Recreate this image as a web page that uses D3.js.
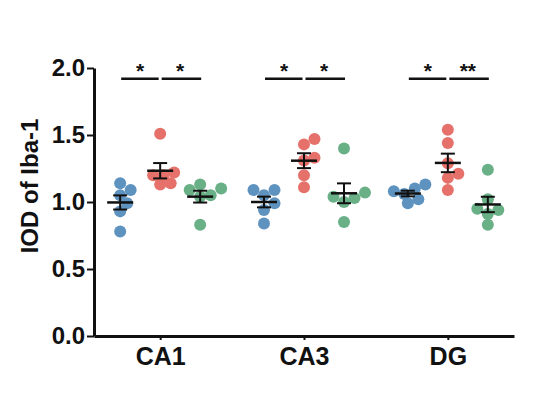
<!DOCTYPE html>
<head>
  <meta charset="utf-8">
  <title>IOD of Iba-1</title>
</head>
<style>
  body { margin: 0; background: #fff; }
  svg { display: block; font-family: "Liberation Sans", Arial, sans-serif; }
  .axis text { font-weight: bold; font-size: 24px; fill: #111; }
  .axis path, .axis line { stroke: #111; stroke-width: 3; }
  .sig { stroke: #111; stroke-width: 2.5; }
  .star { font-weight: bold; font-size: 21px; text-anchor: middle; fill: #111; }
  .err { stroke: #111; stroke-width: 2; fill: none; }
</style>
<svg width="535" height="394"></svg>
<script src="https://d3js.org/d3.v7.min.js"></script>
<script>
  // data
  var regions = ["CA1", "CA3", "DG"];
  var groups = ["g1", "g2", "g3"];
  var colors = ["#5f93bf", "#e6716b", "#69b087"];

  var g1 = {
    CA1: [1.09, 1.14, 1.05, 0.99, 0.93, 0.78],
    CA3: [1.09, 1.09, 1.05, 0.99, 0.94, 0.84],
    DG:  [1.13, 1.10, 1.08, 1.06, 1.02, 0.99]
  };
  var g2 = {
    CA1: [1.51, 1.14, 1.13, 1.20, 1.20, 1.22],
    CA3: [1.43, 1.47, 1.31, 1.33, 1.20, 1.11],
    DG:  [1.54, 1.44, 1.29, 1.21, 1.18, 1.09]
  };
  var g3 = {
    CA1: [0.83, 1.09, 1.13, 1.05, 1.04, 1.10],
    CA3: [1.40, 0.85, 1.07, 1.04, 1.00, 1.03],
    DG:  [1.24, 1.02, 0.95, 0.94, 0.91, 0.83]
  };
  var seriesData = [g1, g2, g3];

  var sigLeft = ["*", "*", "*"];
  var sigRight = ["*", "*", "**"];
  var sigLevel = 1.92;

  var yTicks = [0, 0.5, 1.0, 1.5, 2.0];

  var svg = d3.select("svg");
  var margin = { left: 94, right: 21, top: 68, bottom: 58 };
  var width = +svg.attr("width"), height = +svg.attr("height");

  var x = d3.scalePoint().domain(regions)
    .range([margin.left, width - margin.right]).padding(0.46);
  var xs = d3.scalePoint().domain(groups).range([-40, 40]);
  var y = d3.scaleLinear().domain([0, 2]).range([height - margin.bottom, margin.top]);

  var r = 6;

  // simple beeswarm so dots don't overlap
  function swarm(vals) {
    var placed = [];
    var order = vals.map(function (v, i) { return i; })
      .sort(function (a, b) { return vals[a] - vals[b]; });
    var out = new Array(vals.length);
    order.forEach(function (i) {
      var py = y(vals[i]);
      var cands = [0];
      for (var k = 1; k < 8; k++) { cands.push(k * 3.5, -k * 3.5); }
      for (var c = 0; c < cands.length; c++) {
        var ok = placed.every(function (p) {
          var dx = p[0] - cands[c], dy = p[1] - py;
          return dx * dx + dy * dy >= (2 * r - 2) * (2 * r - 2);
        });
        if (ok) { out[i] = cands[c]; placed.push([cands[c], py]); break; }
      }
      if (out[i] === undefined) { out[i] = 0; placed.push([0, py]); }
    });
    return out;
  }

  // axes
  var yAxis = svg.append("g").attr("class", "axis")
    .attr("transform", "translate(" + margin.left + ",0)")
    .call(d3.axisLeft(y).tickValues(yTicks).tickFormat(d3.format(".1f")).tickSize(7).tickPadding(2).tickSizeOuter(0));

  var xAxis = svg.append("g").attr("class", "axis")
    .attr("transform", "translate(0," + (height - margin.bottom) + ")")
    .call(d3.axisBottom(x).tickSize(4).tickSizeOuter(0).tickPadding(4));
  xAxis.selectAll("text").attr("dy", "0.85em").style("font-size", "25px");
  xAxis.selectAll(".tick line").style("stroke-width", 2);
  yAxis.selectAll(".tick line").style("stroke-width", 2);

  svg.append("text")
    .attr("transform", "translate(38," + 186 + ") rotate(-90)")
    .attr("text-anchor", "middle")
    .style("font-weight", "bold").style("font-size", "24px").style("fill", "#111")
    .text("IOD of Iba-1");

  // dots + mean/sem
  regions.forEach(function (reg) {
    seriesData.forEach(function (s, gi) {
      var vals = s[reg];
      var cx = x(reg) + xs(groups[gi]);
      var offs = swarm(vals);
      svg.append("g").selectAll("circle").data(vals).enter().append("circle")
        .attr("cx", function (d, i) { return cx + offs[i]; })
        .attr("cy", function (d) { return y(d); })
        .attr("r", r)
        .attr("fill", colors[gi]);

      var m = d3.mean(vals);
      var sem = d3.deviation(vals) / Math.sqrt(vals.length);
      var e = svg.append("g").attr("class", "err");
      e.append("line").attr("x1", cx).attr("x2", cx).attr("y1", y(m - sem)).attr("y2", y(m + sem));
      e.append("line").attr("x1", cx - 13).attr("x2", cx + 13).attr("y1", y(m)).attr("y2", y(m)).style("stroke-width", 2.5);
      [m - sem, m + sem].forEach(function (v) {
        e.append("line").attr("x1", cx - 7).attr("x2", cx + 7).attr("y1", y(v)).attr("y2", y(v));
      });
    });
  });

  // significance bars
  regions.forEach(function (reg, i) {
    var a = x(reg) + xs("g1"), b = x(reg) + xs("g2"), c = x(reg) + xs("g3");
    var yy = y(sigLevel);
    svg.append("line").attr("class", "sig").attr("x1", a + 1).attr("x2", b - 1.5).attr("y1", yy).attr("y2", yy);
    svg.append("line").attr("class", "sig").attr("x1", b + 1.5).attr("x2", c + 1).attr("y1", yy).attr("y2", yy);
    svg.append("text").attr("class", "star").attr("x", (a + b) / 2).attr("y", yy - 1).text(sigLeft[i]);
    svg.append("text").attr("class", "star").attr("x", (b + c) / 2).attr("y", yy - 1).text(sigRight[i]);
  });
</script>
